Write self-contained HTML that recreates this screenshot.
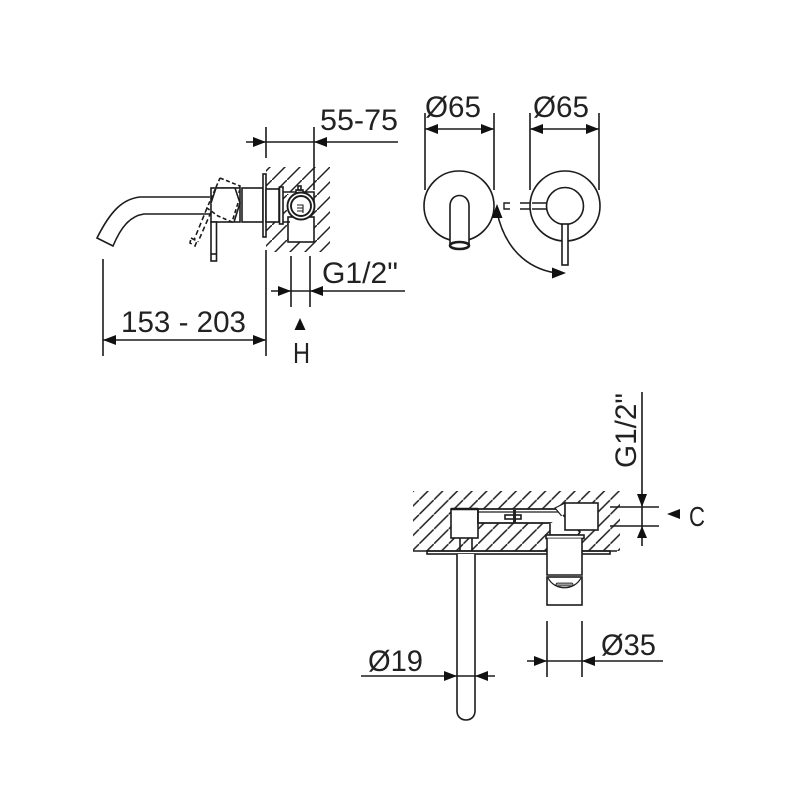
<!DOCTYPE html>
<html><head><meta charset="utf-8"><style>html,body{margin:0;padding:0;background:#fff}svg{display:block}</style></head><body>
<svg width="800" height="800" viewBox="0 0 800 800" xmlns="http://www.w3.org/2000/svg">
<defs>
<pattern id="h1" patternUnits="userSpaceOnUse" x="2" y="0" width="15" height="15"><path d="M-3 18L18 -3" stroke="#222" stroke-width="1.500"/></pattern>
<pattern id="h2" patternUnits="userSpaceOnUse" x="7.6" y="0" width="14.7" height="14.7"><path d="M-3 17.7L17.7 -3" stroke="#222" stroke-width="1.500"/></pattern>
</defs>
<rect width="800" height="800" fill="#fff"/>

<!-- hatching -->
<rect x="266" y="167" width="64" height="85" fill="url(#h1)"/>
<rect x="413" y="491" width="207" height="60" fill="url(#h2)"/>

<g fill="none" stroke="#1c1c1c" stroke-width="1.600">
<!-- top left: spout -->
<path d="M210 197H140C122 199 110 212 97 238L113 246C121 227 130 216 144 214H210" fill="#fff"/>
<rect x="211" y="188" width="29" height="34" fill="#fff"/>
<path d="M211 203L216 188H235L240 203L234 222" fill="#fff"/>
<path d="M220 178L240 186L239 193M238 203L232 222L218 216L207 208L220 178" stroke-dasharray="4 2.5"/>
<path d="M207 208L194 240M211 212L198 242M191 238L197 241L195 246L190 243Z" stroke-dasharray="5 3"/>
<rect x="211" y="222" width="5.500" height="39" fill="#fff"/>
<path d="M211 254H216.500"/>
<rect x="242" y="188" width="21" height="34" fill="#fff"/>
<rect x="263" y="174" width="3" height="63" fill="#fff"/>
<rect x="266" y="189" width="13" height="33" fill="#fff"/>
<rect x="279.500" y="187" width="3.500" height="37" fill="#fff"/>
<rect x="288" y="217" width="26" height="25" fill="#fff"/>
<path d="M283 192H314V205M283 222H290" fill="#fff"/>
<rect x="296" y="190" width="7" height="4" fill="#fff"/>
<rect x="298" y="186" width="3" height="4"/>
<circle cx="301" cy="206" r="13.500" fill="#fff" stroke-width="1.900"/>
<circle cx="301" cy="206" r="10" stroke-width="1.900"/>
<path d="M297 205H303V213M297 208H303M297 211H303" stroke-width="1.100"/>

<!-- dim lines top left -->
<path d="M266 127V158M314 127V190M246 142H398"/>
<path d="M103 259V356M266 250V356M103 340H266"/>
<path d="M291 256V307M310 256V307M271 291H405"/>

<!-- front views -->
<circle cx="459" cy="206" r="35"/>
<circle cx="565" cy="206" r="35"/>
<path d="M450 247V206C450 192 469 192 469 206V247" fill="#fff"/>
<ellipse cx="459.500" cy="245.500" rx="9.500" ry="3.500" fill="#fff" stroke-width="2.600"/>
<circle cx="565" cy="206" r="18.500" fill="#fff"/>
<rect x="562" y="224" width="6" height="41" fill="#fff"/>
<path d="M510 203H504V209H510M520 203H530M532 203H546M520 209H530M532 209H546" stroke-width="1.400"/>
<path d="M497 212C504 245 524 268 556 273"/>
<path d="M425 113V190M494 113V190M425 129H494M530 113V190M599 113V190M530 129H599"/>

<!-- bottom view -->
<rect x="427" y="551" width="183" height="3" fill="#fff"/>
<path d="M413 551H617"/>
<path d="M457 554V711C457 723 475 723 475 711V554" fill="#fff"/>
<path d="M460 538V551M472 538V551"/>
<rect x="451" y="509" width="27" height="29" fill="#fff"/>
<path d="M451 509H478" stroke-width="2.600"/>
<path d="M478 509H556C560 509 563 512 563 515V518C563 521 558 523 555 523H478Z" fill="#fff" stroke-width="1.800"/>
<path d="M478 512H560" stroke-width="1.300"/>
<path d="M555 508L565 503V520Z" fill="#fff" stroke-width="1.200"/>
<path d="M550 524V535H578L580 532L563 515" fill="#fff"/>
<rect x="565" y="503" width="33" height="27" fill="#fff"/>
<rect x="546" y="535" width="38" height="3.500" fill="#fff"/>
<path d="M547 538.500V575H582V538.500" fill="#fff"/>
<rect x="547" y="577" width="35" height="28" fill="#fff"/>
<path d="M548 578C555 591 574 591 581 578" stroke-width="1.300"/>
<rect x="556" y="583" width="17" height="3" rx="1.500" fill="#999" stroke-width="0.800"/>
<rect x="505" y="515" width="16" height="4" fill="#fff"/>
<rect x="513" y="510" width="3" height="13" fill="#222" stroke="none"/>

<!-- dims bottom -->
<path d="M610 507H659M610 526H659M642 392V546"/>
<path d="M361 676H495"/>
<path d="M547 621V677M582 621V677M527 661H663"/>
</g>

<!-- arrowheads -->
<g fill="#111">
<path d="M253 137L266 142L253 147Z"/>
<path d="M327 137L314 142L327 147Z"/>
<path d="M103 340L116 335V345Z"/>
<path d="M266 340L253 335V345Z"/>
<path d="M291 291L278 286V296Z"/>
<path d="M310 291L323 286V296Z"/>
<path d="M300 318L305.500 330H294.500Z"/>
<path d="M425 129L438 124V134Z"/>
<path d="M494 129L481 124V134Z"/>
<path d="M530 129L543 124V134Z"/>
<path d="M599 129L586 124V134Z"/>
<path d="M497 204L502.500 218H491.500Z"/>
<path d="M566 273L552 267.500V278.500Z"/>
<path d="M642 507L637 494H647Z"/>
<path d="M642 526L637 538H647Z"/>
<path d="M667 514L680 509V519Z"/>
<path d="M457 676L444 671V681Z"/>
<path d="M475 676L488 671V681Z"/>
<path d="M547 661L534 656V666Z"/>
<path d="M582 661L595 656V666Z"/>
</g>

<!-- labels -->
<g font-family="'Liberation Sans',sans-serif" font-size="30" fill="#222">
<text x="320" y="130" textLength="78" lengthAdjust="spacingAndGlyphs">55-75</text>
<text x="121" y="332" textLength="125" lengthAdjust="spacingAndGlyphs">153 - 203</text>
<text x="322" y="283" textLength="76" lengthAdjust="spacingAndGlyphs">G1/2"</text>
<text x="293" y="363" font-size="29" textLength="17" lengthAdjust="spacingAndGlyphs">H</text>
<text x="425" y="117" textLength="56" lengthAdjust="spacingAndGlyphs">Ø65</text>
<text x="533" y="117" textLength="56" lengthAdjust="spacingAndGlyphs">Ø65</text>
<text x="368" y="671" textLength="55" lengthAdjust="spacingAndGlyphs">Ø19</text>
<text x="601" y="655" textLength="55" lengthAdjust="spacingAndGlyphs">Ø35</text>
<text x="689" y="526" font-size="28" textLength="16" lengthAdjust="spacingAndGlyphs">C</text>
<text transform="translate(636 468) rotate(-90)" textLength="75" lengthAdjust="spacingAndGlyphs">G1/2"</text>
</g>
</svg>
</body></html>
